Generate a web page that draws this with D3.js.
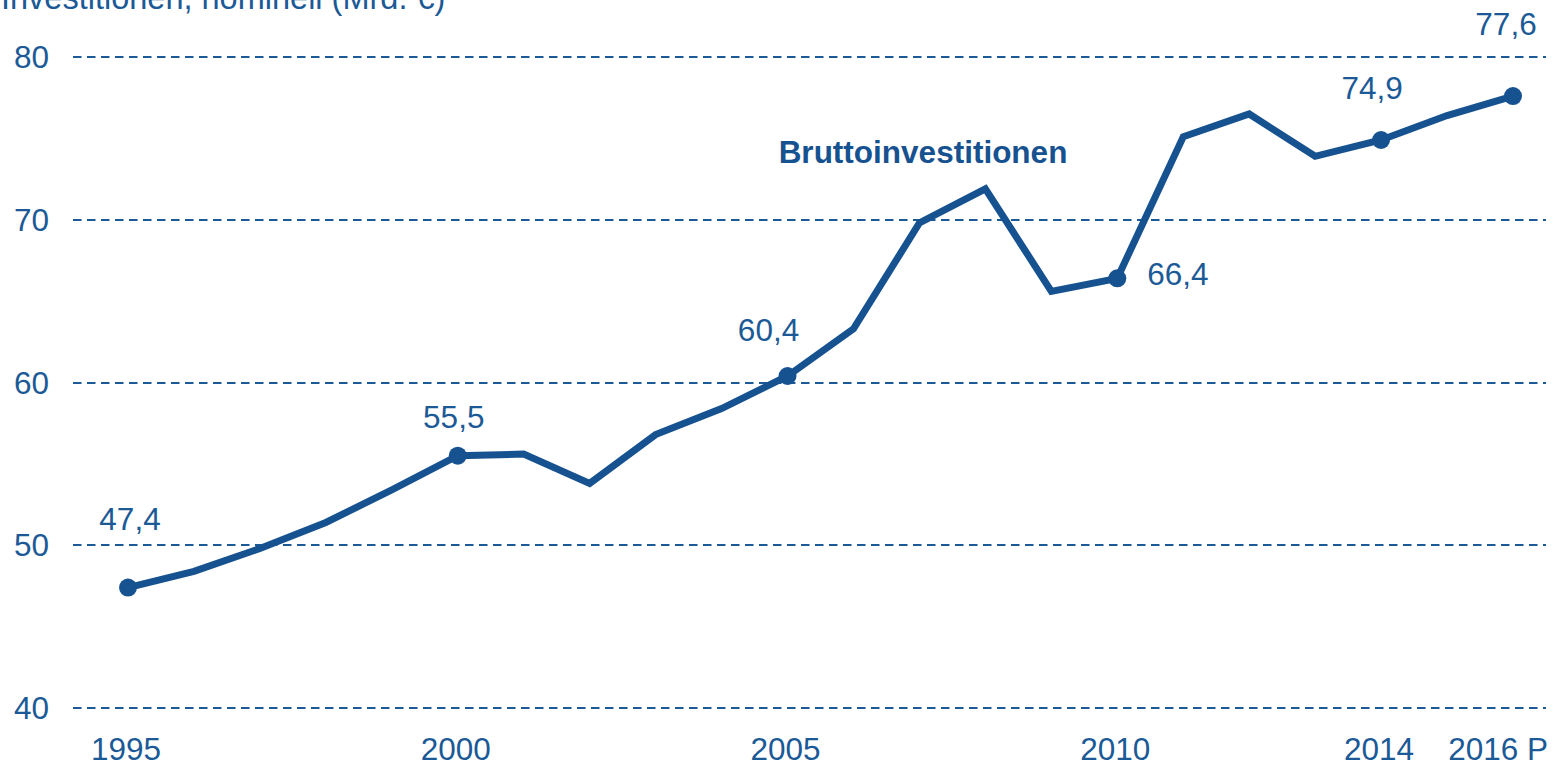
<!doctype html>
<html lang="de">
<head>
<meta charset="utf-8" />
<title>Bruttoinvestitionen</title>
<script src="https://cdn.jsdelivr.net/npm/d3@7"></script>
<style>
  body { margin: 0; background: #fff; }
  svg text { font-family: "Liberation Sans", Arial, sans-serif; }
</style>
</head>
<body>
<script>
// values (Mrd. €)
var years = [1995, 1996, 1997, 1998, 1999, 2000, 2001, 2002, 2003, 2004, 2005,
             2006, 2007, 2008, 2009, 2010, 2011, 2012, 2013, 2014, 2015, 2016];
var values = [47.4, 48.4, 49.8, 51.4, 53.4, 55.5, 55.6, 53.8, 56.8, 58.4, 60.4,
              63.3, 69.8, 71.9, 65.6, 66.4, 75.1, 76.5, 73.9, 74.9, 76.4, 77.6];
var markedYears = [1995, 2000, 2005, 2010, 2014, 2016];
var xTicks = [1995, 2000, 2005, 2010, 2014, 2016];
var xTickLabels = ["1995", "2000", "2005", "2010", "2014", "2016 P"];
var yTicks = [40, 50, 60, 70, 80];
var title = "Investitionen, nominell (Mrd. €)";
var seriesName = "Bruttoinvestitionen";

// label placement relative to the marked point
var labelOffset = {
  1995: [2, -58, "middle"],
  2000: [-4, -28, "middle"],
  2005: [-19, -35, "middle"],
  2010: [30, 7, "start"],
  2014: [-9, -41, "middle"],
  2016: [-7, -61, "middle"]
};

var w = 1555, h = 766;
var textColor = "#1b5a96";
var lineColor = "#175290";
var fontSize = "31.5px";

var svg = d3.select("body").append("svg")
  .attr("width", w)
  .attr("height", h);

var x = d3.scaleLinear().domain([1995, 2016]).range([128, 1513]);
var y = d3.scaleLinear().domain([40, 80]).range([708, 57]);

var fmt = function(v) { return d3.format(".1f")(v).replace(".", ","); };

// title (cut at the top like the original)
svg.append("text")
  .attr("x", 1)
  .attr("y", 9)
  .attr("fill", textColor)
  .attr("font-size", "32.5px")
  .text(title);

// gridlines
svg.selectAll("line.grid")
  .data(yTicks)
  .enter()
  .append("line")
  .attr("class", "grid")
  .attr("x1", 73)
  .attr("x2", 1546)
  .attr("y1", function(d) { return Math.round(y(d)); })
  .attr("y2", function(d) { return Math.round(y(d)); })
  .attr("stroke", textColor)
  .attr("stroke-width", 2)
  .attr("stroke-dasharray", "8.5,5.5");

// y labels
svg.selectAll("text.ytick")
  .data(yTicks)
  .enter()
  .append("text")
  .attr("class", "ytick")
  .attr("x", 49)
  .attr("y", function(d) { return y(d) + 11; })
  .attr("text-anchor", "end")
  .attr("fill", textColor)
  .attr("font-size", fontSize)
  .text(function(d) { return d; });

// x labels
svg.selectAll("text.xtick")
  .data(xTicks)
  .enter()
  .append("text")
  .attr("class", "xtick")
  .attr("x", function(d, i) { return i == xTicks.length - 1 ? x(d) + 35 : x(d) - 2; })
  .attr("y", 760)
  .attr("text-anchor", function(d, i) { return i == xTicks.length - 1 ? "end" : "middle"; })
  .attr("fill", textColor)
  .attr("font-size", fontSize)
  .text(function(d, i) { return xTickLabels[i]; });

// series line
var data = years.map(function(yr, i) { return { year: yr, value: values[i] }; });

var line = d3.line()
  .x(function(d) { return x(d.year); })
  .y(function(d) { return y(d.value); });

svg.append("path")
  .datum(data)
  .attr("d", line)
  .attr("fill", "none")
  .attr("stroke", lineColor)
  .attr("stroke-width", 7)
  .attr("stroke-linejoin", "miter");

var marked = data.filter(function(d) { return markedYears.indexOf(d.year) >= 0; });

svg.selectAll("circle.dot")
  .data(marked)
  .enter()
  .append("circle")
  .attr("class", "dot")
  .attr("cx", function(d) { return x(d.year); })
  .attr("cy", function(d) { return y(d.value); })
  .attr("r", 9)
  .attr("fill", lineColor);

svg.selectAll("text.vlabel")
  .data(marked)
  .enter()
  .append("text")
  .attr("class", "vlabel")
  .attr("x", function(d) { return x(d.year) + labelOffset[d.year][0]; })
  .attr("y", function(d) { return y(d.value) + labelOffset[d.year][1]; })
  .attr("text-anchor", function(d) { return labelOffset[d.year][2]; })
  .attr("fill", textColor)
  .attr("font-size", fontSize)
  .text(function(d) { return fmt(d.value); });

// series name
svg.append("text")
  .attr("x", 923)
  .attr("y", 163)
  .attr("text-anchor", "middle")
  .attr("fill", lineColor)
  .attr("font-size", fontSize)
  .attr("font-weight", "bold")
  .text(seriesName);
</script>
</body>
</html>
